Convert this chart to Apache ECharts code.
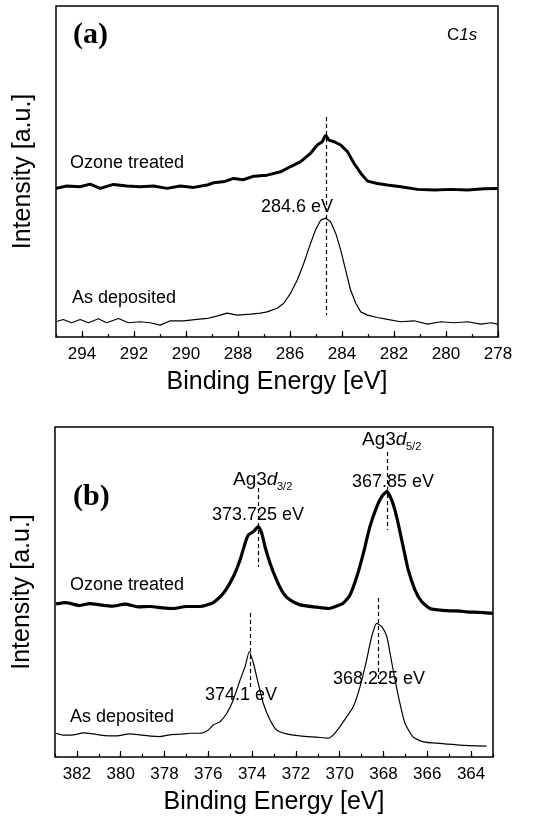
<!DOCTYPE html>
<html>
<head>
<meta charset="utf-8">
<script src="https://cdn.jsdelivr.net/npm/echarts@6/dist/echarts.min.js"></script>
<style>
  html, body { margin: 0; padding: 0; background: #fff; }
  #chart { width: 556px; height: 826px; }
</style>
</head>
<body>
<div id="chart"></div>
<script>
// panel (a) C1s: binding energy [eV] and intensity [a.u., 0-100 of plot height]
const aOzoneE = [295.0, 294.59, 294.07, 293.69, 293.3, 292.79, 292.27, 291.76, 291.25, 290.73, 290.22, 289.71, 289.19, 288.94, 288.5, 288.17, 287.8, 287.39, 286.88, 286.36, 285.98, 285.59, 285.21, 284.95, 284.76, 284.63, 284.5, 284.31, 284.05, 283.79, 283.54, 283.28, 283.02, 282.64, 282.25, 281.74, 281.09, 280.45, 279.81, 279.17, 278.53, 278.01]
const aOzoneI = [44.9, 45.6, 45.4, 46.2, 44.9, 46.1, 45.6, 45.4, 45.6, 44.9, 45.6, 45.2, 45.9, 46.6, 47.0, 47.9, 47.5, 48.6, 48.9, 49.9, 51.5, 53.0, 55.5, 58.0, 59.0, 61.0, 59.5, 59.0, 58.0, 56.0, 52.5, 49.5, 47.1, 46.4, 45.9, 45.4, 44.6, 44.4, 44.6, 44.4, 44.8, 44.9]
const aDepE = [295.0, 294.72, 294.4, 294.07, 293.75, 293.37, 293.05, 292.6, 292.21, 291.76, 291.38, 290.99, 290.61, 290.09, 289.58, 289.19, 288.81, 288.42, 288.03, 287.52, 287.14, 286.88, 286.49, 286.24, 285.98, 285.72, 285.47, 285.21, 285.02, 284.82, 284.63, 284.44, 284.24, 284.05, 283.86, 283.67, 283.47, 283.28, 283.02, 282.64, 282.25, 281.74, 281.23, 280.71, 280.2, 279.68, 279.17, 278.65, 278.27, 278.01]
const aDepI = [4.6, 5.3, 4.3, 5.3, 4.3, 5.5, 4.3, 5.6, 4.3, 4.6, 4.3, 3.6, 4.9, 4.9, 5.3, 5.6, 6.3, 7.2, 6.6, 6.9, 7.2, 7.6, 8.7, 10.2, 13.2, 17.2, 22.3, 28.3, 32.3, 35.3, 35.9, 34.8, 31.3, 26.3, 20.2, 14.2, 10.2, 7.6, 6.6, 5.9, 5.3, 4.6, 4.9, 3.9, 4.6, 4.3, 4.6, 3.9, 4.3, 3.9]

// panel (b) Ag3d
const bOzoneE = [382.95, 382.5, 381.9, 381.4, 380.95, 380.4, 379.8, 379.2, 378.66, 378.1, 377.6, 377.0, 376.38, 375.77, 375.31, 374.86, 374.55, 374.32, 374.17, 373.94, 373.72, 373.56, 373.41, 373.18, 372.88, 372.57, 372.27, 371.81, 371.05, 370.5, 370.29, 369.84, 369.53, 369.22, 368.92, 368.62, 368.31, 368.08, 367.85, 367.63, 367.4, 367.1, 366.87, 366.56, 366.26, 365.88, 365.4, 364.96, 364.5, 364.2, 363.6, 363.01]
const bOzoneI = [46.4, 46.8, 45.9, 46.5, 46.1, 45.7, 46.3, 45.5, 45.6, 45.2, 45.0, 45.6, 45.6, 46.8, 49.6, 54.6, 59.7, 64.8, 67.3, 68.3, 69.8, 67.8, 63.7, 58.7, 53.6, 49.6, 47.6, 46.1, 45.4, 45.0, 45.4, 46.6, 49.1, 54.6, 61.7, 69.8, 75.8, 78.9, 80.4, 77.9, 72.8, 63.7, 56.7, 50.6, 47.1, 45.0, 44.5, 44.3, 44.2, 44.0, 43.8, 43.5]
const bDepE = [382.95, 382.6, 382.16, 381.7, 381.25, 380.7, 380.18, 379.6, 379.12, 378.6, 378.21, 377.7, 377.29, 376.8, 376.38, 376.0, 375.77, 375.47, 375.16, 374.86, 374.55, 374.32, 374.13, 373.94, 373.72, 373.49, 373.18, 372.88, 372.42, 371.81, 371.05, 370.52, 370.29, 369.99, 369.68, 369.38, 369.07, 368.77, 368.54, 368.31, 368.08, 367.85, 367.7, 367.47, 367.25, 367.02, 366.64, 366.18, 365.42, 364.51, 363.29]
const bDepI = [7.2, 6.6, 6.7, 7.3, 7.0, 6.5, 6.4, 7.0, 6.7, 6.3, 6.2, 6.8, 6.9, 7.2, 7.2, 8.2, 9.7, 10.7, 13.2, 17.3, 23.3, 27.4, 31.9, 28.4, 22.3, 16.3, 11.2, 8.2, 7.0, 6.4, 6.0, 5.7, 6.7, 9.2, 12.2, 15.2, 21.3, 29.4, 36.5, 40.5, 39.5, 36.5, 31.4, 23.3, 16.3, 10.2, 6.0, 4.6, 4.1, 3.6, 3.3]

// dashed peak markers: [energy, top, bottom]
const aMarks = [[284.6, 66.5, 6.6]]
const bMarks = [[373.725, 81.5, 57.6], [367.85, 92.4, 68.8], [374.1, 43.6, 20.3], [368.225, 48.2, 22.4]]

const xName = 'Binding Energy [eV]'
const yName = 'Intensity [a.u.]'
const sans = '"Liberation Sans", Arial, sans-serif'
const serif = '"Liberation Serif", "Times New Roman", serif'

const zip = (xs, ys) => xs.map((x, i) => [x, ys[i]])

function markLines(marks) {
  return {
    silent: true,
    symbol: 'none',
    label: { show: false },
    lineStyle: { color: '#000', type: [4, 3], width: 1.2 },
    data: marks.map(m => [{ coord: [m[0], m[1]] }, { coord: [m[0], m[2]] }])
  }
}

function majorAxis(grid, min, max, interval, showMin) {
  return {
    type: 'value', gridIndex: grid, position: 'bottom', inverse: true, min, max, interval,
    splitNumber: 10,
    axisLine: { show: false, onZero: false },
    axisTick: { show: true, inside: true, length: 6, lineStyle: { color: '#000', width: 1.2 } },
    axisLabel: { color: '#000', fontSize: 17, fontFamily: sans, margin: 9, showMinLabel: showMin, showMaxLabel: false },
    splitLine: { show: false },
    name: xName, nameLocation: 'middle', nameGap: 33,
    nameTextStyle: { color: '#000', fontSize: 25, fontFamily: sans }
  }
}

function minorAxis(grid, min, max) {
  return {
    type: 'value', gridIndex: grid, position: 'bottom', inverse: true, min, max, interval: 1,
    axisLine: { show: false, onZero: false },
    axisTick: { show: true, inside: true, length: 3, lineStyle: { color: '#000', width: 1.2 } },
    axisLabel: { show: false },
    splitLine: { show: false }
  }
}

function yAxis(grid) {
  return {
    type: 'value', gridIndex: grid, min: 0, max: 100,
    axisLine: { show: false }, axisTick: { show: false }, axisLabel: { show: false }, splitLine: { show: false },
    name: yName, nameLocation: 'middle', nameGap: 20,
    nameTextStyle: { color: '#000', fontSize: 25, fontFamily: sans }
  }
}

function txt(text, x, y, size, extra) {
  return {
    type: 'text', x, y,
    style: Object.assign({ text, fill: '#000', font: size + 'px ' + sans, align: 'left', verticalAlign: 'middle' }, extra || {})
  }
}

function agLabel(x, y, sub) {
  return [
    {
      type: 'text', x, y,
      style: {
        text: '{n|Ag3}{i|d}', align: 'left', verticalAlign: 'middle', fill: '#000',
        rich: {
          n: { fontSize: 19, fontFamily: sans, fill: '#000' },
          i: { fontSize: 19, fontFamily: sans, fontStyle: 'italic', fill: '#000' }
        }
      }
    },
    txt(sub, x + 44, y + 7, 11)
  ]
}

const chart = echarts.init(document.getElementById('chart'), null, { renderer: 'canvas' })
chart.setOption({
  animation: false,
  backgroundColor: '#fff',
  grid: [
    { left: 56, top: 6, width: 442, height: 331, show: true, borderColor: '#000', borderWidth: 1.5, backgroundColor: 'transparent' },
    { left: 55, top: 427, width: 438, height: 330, show: true, borderColor: '#000', borderWidth: 1.5, backgroundColor: 'transparent' }
  ],
  xAxis: [
    majorAxis(0, 278, 295, 2, true),
    minorAxis(0, 278, 295),
    majorAxis(1, 363, 383, undefined, false),
    minorAxis(1, 363, 383)
  ],
  yAxis: [yAxis(0), yAxis(1)],
  series: [
    { type: 'line', xAxisIndex: 0, yAxisIndex: 0, data: zip(aOzoneE, aOzoneI), showSymbol: false, lineStyle: { color: '#000', width: 3 }, markLine: markLines(aMarks) },
    { type: 'line', xAxisIndex: 0, yAxisIndex: 0, data: zip(aDepE, aDepI), showSymbol: false, lineStyle: { color: '#000', width: 1.2 } },
    { type: 'line', xAxisIndex: 2, yAxisIndex: 1, data: zip(bOzoneE, bOzoneI), showSymbol: false, smooth: 0.2, lineStyle: { color: '#000', width: 3.2 }, markLine: markLines(bMarks) },
    { type: 'line', xAxisIndex: 2, yAxisIndex: 1, data: zip(bDepE, bDepI), showSymbol: false, smooth: 0.2, lineStyle: { color: '#000', width: 1.2 } }
  ],
  graphic: [
    txt('(a)', 73, 35, 30, { font: 'bold 30px ' + serif }),
    {
      type: 'text', x: 447, y: 35,
      style: {
        text: '{n|C}{i|1s}', align: 'left', verticalAlign: 'middle', fill: '#000',
        rich: {
          n: { fontSize: 17, fontFamily: sans, fill: '#000' },
          i: { fontSize: 17, fontFamily: sans, fontStyle: 'italic', fill: '#000' }
        }
      }
    },
    txt('Ozone treated', 70, 163, 18),
    txt('284.6 eV', 261, 207, 18),
    txt('As deposited', 72, 298, 18),
    txt('(b)', 73, 497, 30, { font: 'bold 30px ' + serif }),
    ...agLabel(233, 480, '3/2'),
    txt('373.725 eV', 212, 515, 18),
    ...agLabel(362, 440, '5/2'),
    txt('367.85 eV', 352, 482, 18),
    txt('Ozone treated', 70, 585, 18),
    txt('374.1 eV', 205, 695, 18),
    txt('368.225 eV', 333, 679, 18),
    txt('As deposited', 70, 717, 18)
  ]
})
</script>
</body>
</html>
